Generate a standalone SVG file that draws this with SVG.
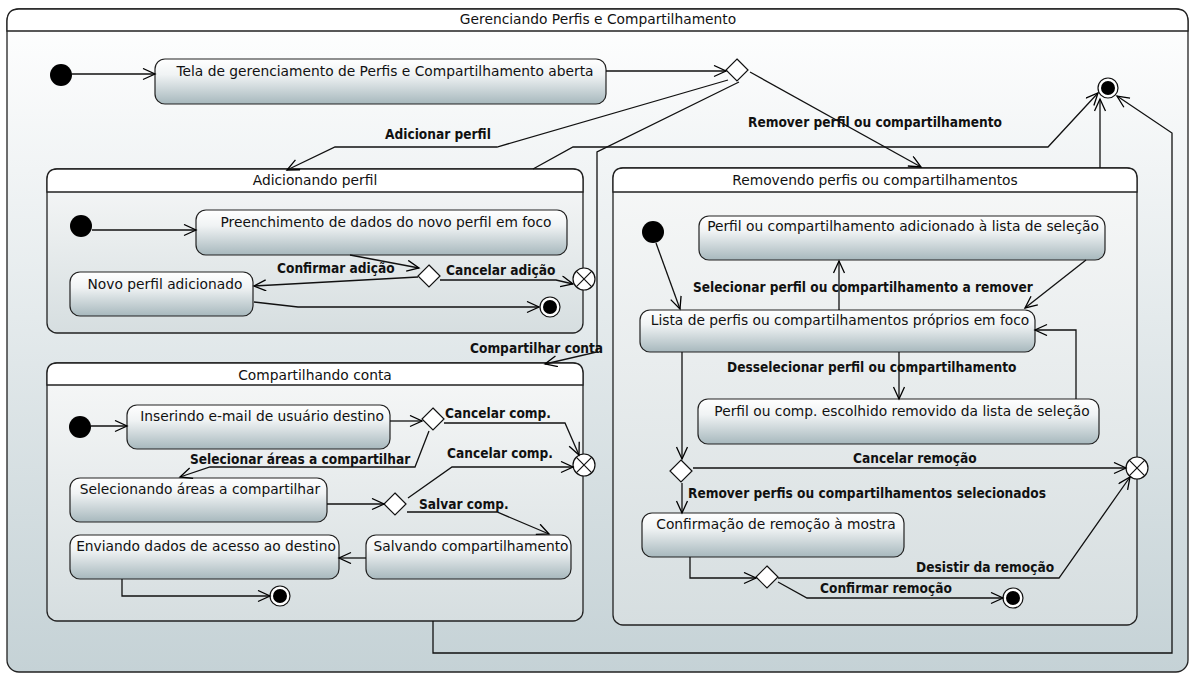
<svg xmlns="http://www.w3.org/2000/svg" width="1195" height="675" viewBox="0 0 1195 675">
<defs>
<linearGradient id="bg" x1="0" y1="0" x2="0" y2="1"><stop offset="0" stop-color="#ffffff"/><stop offset="1" stop-color="#c5d2d6"/></linearGradient>
<linearGradient id="comp" x1="0" y1="0" x2="0" y2="1"><stop offset="0" stop-color="#f7f8f8"/><stop offset="1" stop-color="#d6dee0"/></linearGradient>
<linearGradient id="st" x1="0" y1="0" x2="0" y2="1"><stop offset="0" stop-color="#ffffff"/><stop offset="0.35" stop-color="#f0f3f4"/><stop offset="1" stop-color="#a7b8bd"/></linearGradient>
<marker id="ar" markerUnits="userSpaceOnUse" markerWidth="16" markerHeight="14" refX="13" refY="6" orient="auto"><path d="M1,0.5 L13,6 L1,11.5" fill="none" stroke="#000" stroke-width="1.3"/></marker>
</defs>
<style>
.st{fill:url(#st);stroke:#222;stroke-width:1.2}
.cp{fill:url(#comp);stroke:#222;stroke-width:1.3}
.tb{fill:#fff;stroke:#222;stroke-width:1.3}
.t{font-family:"DejaVu Sans",sans-serif;font-size:13.8px;fill:#111;text-anchor:middle}
.l{font-family:"DejaVu Sans Condensed","DejaVu Sans",sans-serif;font-stretch:condensed;font-weight:bold;font-size:13.6px;fill:#111}
.c path,.c polyline{fill:none;stroke:#111;stroke-width:1.3;marker-end:url(#ar)}
.dm{fill:#fff;stroke:#111;stroke-width:1.2}
.ini{fill:#000}
.fo{fill:#fff;stroke:#111;stroke-width:1.2}
.x{fill:#fff;stroke:#111;stroke-width:1.2}
</style>
<rect x="0" y="0" width="1195" height="675" fill="#fff"/>
<g id="frame">
<rect x="7" y="9" width="1181" height="663" rx="12" fill="url(#bg)" stroke="#222" stroke-width="1.3"/>
<path d="M7,31 V21 Q7,9 19,9 H1176 Q1188,9 1188,21 V31 Z" fill="#fff" stroke="#222" stroke-width="1.3"/>
<text class="t" x="598" y="24">Gerenciando Perfis e Compartilhamento</text>
</g>
<g id="adicionando">
<rect class="cp" x="47" y="169" width="536" height="164" rx="10"/>
<path class="tb" d="M47,192 V179 Q47,169 57,169 H573 Q583,169 583,179 V192 Z"/>
<text class="t" x="315" y="185">Adicionando perfil</text>
</g>
<g id="compartilhando">
<rect class="cp" x="47" y="363" width="536" height="258" rx="10"/>
<path class="tb" d="M47,385 V373 Q47,363 57,363 H573 Q583,363 583,373 V385 Z"/>
<text class="t" x="315" y="380">Compartilhando conta</text>
</g>
<g id="removendo">
<rect class="cp" x="613" y="168" width="524" height="457" rx="10"/>
<path class="tb" d="M613,192 V178 Q613,168 623,168 H1127 Q1137,168 1137,178 V192 Z"/>
<text class="t" x="875" y="185">Removendo perfis ou compartilhamentos</text>
</g>
<g id="init0"><circle class="ini" cx="61" cy="75" r="11"/></g>
<g id="tela"><rect class="st" x="155" y="59" width="451" height="45" rx="10"/><text class="t" x="385" y="76">Tela de gerenciamento de Perfis e Compartilhamento aberta</text></g>
<g id="dec0"><polygon class="dm" points="737,59 748,70 737,81 726,70"/></g>
<g id="final0"><circle class="fo" cx="1108" cy="88" r="10"/><circle class="ini" cx="1108" cy="88" r="7"/></g>
<g id="init1"><circle class="ini" cx="81" cy="226" r="11"/></g>
<g id="preenchimento"><rect class="st" x="196" y="210" width="371" height="45" rx="10"/><text class="t" x="386" y="227">Preenchimento de dados do novo perfil em foco</text></g>
<g id="dec1"><polygon class="dm" points="429,265 440,276 429,287 418,276"/></g>
<g id="novo"><rect class="st" x="70" y="272" width="183" height="44" rx="10"/><text class="t" x="165" y="289">Novo perfil adicionado</text></g>
<g id="exit1"><circle class="x" cx="584" cy="279" r="11"/><path d="M576.2,271.2 L591.8,286.8 M591.8,271.2 L576.2,286.8" stroke="#111" stroke-width="1.2"/></g>
<g id="final1"><circle class="fo" cx="550" cy="307" r="10"/><circle class="ini" cx="550" cy="307" r="7"/></g>
<g id="init2"><circle class="ini" cx="80" cy="427" r="11"/></g>
<g id="inserindo"><rect class="st" x="127" y="405" width="263" height="44" rx="10"/><text class="t" x="262" y="421">Inserindo e-mail de usuário destino</text></g>
<g id="dec2"><polygon class="dm" points="433,408 444,419 433,430 422,419"/></g>
<g id="exit2"><circle class="x" cx="584" cy="465" r="11"/><path d="M576.2,457.2 L591.8,472.8 M591.8,457.2 L576.2,472.8" stroke="#111" stroke-width="1.2"/></g>
<g id="selecionando"><rect class="st" x="70" y="478" width="257" height="44" rx="10"/><text class="t" x="200" y="494">Selecionando áreas a compartilhar</text></g>
<g id="dec3"><polygon class="dm" points="395,493 406,504 395,515 384,504"/></g>
<g id="enviando"><rect class="st" x="70" y="535" width="269" height="44" rx="10"/><text class="t" x="206" y="551">Enviando dados de acesso ao destino</text></g>
<g id="salvando"><rect class="st" x="366" y="535" width="205" height="44" rx="10"/><text class="t" x="471" y="551">Salvando compartilhamento</text></g>
<g id="final2"><circle class="fo" cx="280" cy="596" r="10"/><circle class="ini" cx="280" cy="596" r="7"/></g>
<g id="init3"><circle class="ini" cx="653" cy="232" r="11"/></g>
<g id="adicionado"><rect class="st" x="699" y="216" width="406" height="44" rx="10"/><text class="t" x="903" y="231">Perfil ou compartilhamento adicionado à lista de seleção</text></g>
<g id="lista"><rect class="st" x="640" y="310" width="395" height="42" rx="10"/><text class="t" x="840" y="325">Lista de perfis ou compartilhamentos próprios em foco</text></g>
<g id="removido"><rect class="st" x="698" y="399" width="401" height="45" rx="10"/><text class="t" x="902" y="416">Perfil ou comp. escolhido removido da lista de seleção</text></g>
<g id="dec4"><polygon class="dm" points="681,460 692,471 681,482 670,471"/></g>
<g id="exit3"><circle class="x" cx="1137" cy="468" r="11"/><path d="M1129.2,460.2 L1144.8,475.8 M1144.8,460.2 L1129.2,475.8" stroke="#111" stroke-width="1.2"/></g>
<g id="confirmacao"><rect class="st" x="642" y="513" width="262" height="44" rx="10"/><text class="t" x="776" y="529">Confirmação de remoção à mostra</text></g>
<g id="dec5"><polygon class="dm" points="767,566 778,577 767,588 756,577"/></g>
<g id="final3"><circle class="fo" cx="1013" cy="598" r="10"/><circle class="ini" cx="1013" cy="598" r="7"/></g>
<g id="connectors" class="c">
<polyline points="72,74 155,74"/>
<polyline points="606,71 726,71"/>
<polyline points="728,80 497,147 335,147 287,170"/>
<polyline points="750,72 921,167"/>
<polyline points="739,82 597,152 597,352 545,364"/>
<polyline points="533,169 573,147 1048,147 1098,93"/>
<polyline points="1100,168 1100,99"/>
<polyline points="433,621 433,653 1172,653 1172,133 1117,96"/>
<polyline points="92,230 196,230"/>
<polyline points="350,255 419,268"/>
<polyline points="418,277 254,286"/>
<polyline points="440,280 556,280 573,284"/>
<polyline points="254,302 298,307 539,307"/>
<polyline points="91,426 127,426"/>
<polyline points="390,421 422,421"/>
<polyline points="444,423 565,423 579,455"/>
<polyline points="429,431 415,467 210,467 180,477"/>
<polyline points="327,504 384,504"/>
<polyline points="408,498 452,467 573,467"/>
<polyline points="407,512 497,512 549,534"/>
<polyline points="366,558 339,558"/>
<polyline points="122,579 122,596 270,596"/>
<polyline points="656,243 680,309"/>
<polyline points="839,310 839,261"/>
<polyline points="1086,260 1025,308"/>
<polyline points="899,352 899,399"/>
<polyline points="1076,399 1076,330 1035,330"/>
<polyline points="682,352 682,459"/>
<polyline points="693,468 1126,468"/>
<polyline points="682,483 682,513"/>
<polyline points="690,557 690,578 756,578"/>
<polyline points="778,578 1059,578 1130,477"/>
<polyline points="778,582 807,598 1003,598"/>
</g>
<g id="labels">
<text class="l" x="385" y="139">Adicionar perfil</text>
<text class="l" x="748" y="127">Remover perfil ou compartilhamento</text>
<text class="l" x="470" y="353">Compartilhar conta</text>
<text class="l" x="277" y="273">Confirmar adição</text>
<text class="l" x="446" y="275">Cancelar adição</text>
<text class="l" x="445" y="418">Cancelar comp.</text>
<text class="l" x="190" y="464">Selecionar áreas a compartilhar</text>
<text class="l" x="447" y="458">Cancelar comp.</text>
<text class="l" x="419" y="509">Salvar comp.</text>
<text class="l" x="693" y="292">Selecionar perfil ou compartilhamento a remover</text>
<text class="l" x="727" y="372">Desselecionar perfil ou compartilhamento</text>
<text class="l" x="853" y="463">Cancelar remoção</text>
<text class="l" x="688" y="498">Remover perfis ou compartilhamentos selecionados</text>
<text class="l" x="916" y="572">Desistir da remoção</text>
<text class="l" x="820" y="593">Confirmar remoção</text>
</g>
</svg>
